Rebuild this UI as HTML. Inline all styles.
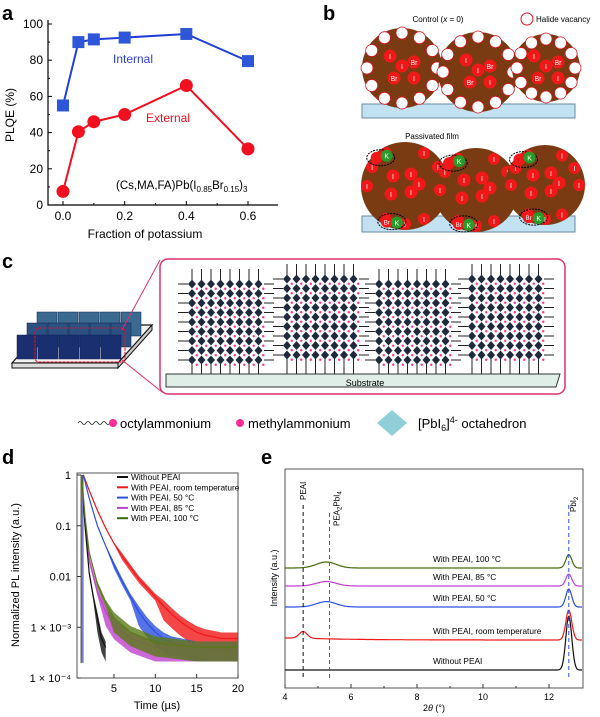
<!DOCTYPE html>
<html><head><meta charset="utf-8"><style>
body{margin:0;background:#fff;}
svg{display:block;font-family:"Liberation Sans",Arial,sans-serif;}
</style></head><body>
<svg id="fig" width="600" height="717" viewBox="0 0 600 717">
<g id="pa"></g>
<g id="pb"></g>
<g id="pc"></g>
<g id="pd"></g>
<g id="pe"></g>
</svg>
<script>
// ---- Panel a data
const aFractions=[0,0.05,0.1,0.2,0.4,0.6];
const aInternal=[55,90,91.5,92.5,94.5,79.5];
const aExternal=[7.5,40.5,46,50,66,31];
const aYTicks=[0,20,40,60,80,100];
const aXTicks=[0,0.2,0.4,0.6];
// ---- Panel d data
const dTimeRed=[1.3,2,3,4,5,6,7,8,9,10,11,12,13,14,15,16,17,18,19,20];
const dRed=[1,0.5,0.2,0.09,0.045,0.025,0.015,0.009,0.006,0.004,0.0026,0.0018,0.0013,0.001,0.0008,0.0007,0.00065,0.0006,0.0006,0.0006];
const dTimeBlue=[1.3,2,3,4,5,6,7,8,9,10,11,12,15,20];
const dBlue=[1,0.35,0.1,0.04,0.017,0.008,0.004,0.002,0.0012,0.0008,0.0006,0.0005,0.0004,0.0004];
const dTimeBlack=[1.1,1.5,2,2.5,3,3.5,4];
const dBlack=[1,0.1,0.012,0.004,0.0015,0.0006,0.0004];
const dTimeGreen=[1.1,1.5,2,3,4,5,7,10,15,20];
const dGreen=[1,0.15,0.03,0.007,0.003,0.0015,0.0008,0.0005,0.0004,0.0004];
const dTimeMag=[1.1,1.5,2,3,4,5,7,10,15,20];
const dMag=[1,0.12,0.022,0.005,0.002,0.0011,0.0006,0.0004,0.0004,0.0004];
const dYTicks=[1,0.1,0.01,0.001,0.0001];
const dYLabels=["1","0.1","0.01","1 × 10⁻³","1 × 10⁻⁴"];
const dXTicks=[5,10,15,20];
// ---- Panel e data
const eCurveNames=["Without PEAI","With PEAI, room temperature","With PEAI, 50 °C","With PEAI, 85 °C","With PEAI, 100 °C"];
const eOffsets=[0.6,1.6,2.7,3.4,4.0];
const ePbI2Heights=[1.8,1.0,0.6,0.4,0.45];
const ePEAHeights=[0,0,0.18,0.15,0.2];
const ePEAIHeights=[0,0.22,0,0,0];
const eXTicks=[4,6,8,10,12];

const NS="http://www.w3.org/2000/svg";
function el(parent,tag,attrs,text){const e=document.createElementNS(NS,tag);for(const k in attrs)e.setAttribute(k,attrs[k]);if(text!==undefined)e.textContent=text;parent.appendChild(e);return e;}

// ================= Panel a
(function(){
const g=document.getElementById('pa');
const X=v=>63+v*(185/0.6), Y=v=>205-v*1.81;
let t=el(g,'text',{x:2,y:20,'font-size':20,'font-weight':'bold'},'a');

let ax=el(g,'path',{d:'M48,20 V205 H278',fill:'none',stroke:'#000','stroke-width':1.2});

aYTicks.forEach(v=>{el(g,'line',{x1:48,x2:52,y1:Y(v),y2:Y(v),stroke:'#000'});
 const l=el(g,'text',{x:43,y:Y(v)+4,'font-size':12,'text-anchor':'end'},v);
 });
[10,30,50,70,90].forEach(v=>el(g,'line',{x1:48,x2:50,y1:Y(v),y2:Y(v),stroke:'#000'}));
aXTicks.forEach(v=>{el(g,'line',{x1:X(v),x2:X(v),y1:205,y2:201,stroke:'#000'});
 const l=el(g,'text',{x:X(v),y:220,'font-size':12,'text-anchor':'middle'},v.toFixed(1));
 });
[0.1,0.3,0.5].forEach(v=>el(g,'line',{x1:X(v),x2:X(v),y1:205,y2:203,stroke:'#000'}));
let yl=el(g,'text',{x:14,y:115,'font-size':12,'text-anchor':'middle',transform:'rotate(-90 14 115)'},'PLQE (%)');

let xl=el(g,'text',{x:145,y:238,'font-size':12,'text-anchor':'middle'},'Fraction of potassium');

let pi=el(g,'polyline',{points:aFractions.map((f,i)=>X(f)+','+Y(aInternal[i])).join(' '),fill:'none',stroke:'#1f3fd6','stroke-width':2});

aFractions.forEach((f,i)=>{const r=el(g,'rect',{x:X(f)-6,y:Y(aInternal[i])-6,width:12,height:12,fill:'#2e56d8'});
 });
let pe=el(g,'polyline',{points:aFractions.map((f,i)=>X(f)+','+Y(aExternal[i])).join(' '),fill:'none',stroke:'#f01020','stroke-width':2});

aFractions.forEach((f,i)=>{const c=el(g,'circle',{cx:X(f),cy:Y(aExternal[i]),r:6.5,fill:'#f01020'});
 });
let li=el(g,'text',{x:113,y:63,'font-size':12,fill:'#2e3fd0'},'Internal');
let le=el(g,'text',{x:146,y:122,'font-size':12,fill:'#f01020'},'External');
let fm=el(g,'text',{x:116,y:189,'font-size':11.5});fm.innerHTML='(Cs,MA,FA)Pb(I<tspan font-size="8" dy="3">0.85</tspan><tspan dy="-3">Br</tspan><tspan font-size="8" dy="3">0.15</tspan><tspan dy="-3">)</tspan><tspan font-size="8" dy="3">3</tspan>';

})();

// ================= Panel b
(function(){
const g=document.getElementById('pb');
const brown='#7b3b12';
let t=el(g,'text',{x:323,y:20,'font-size':20,'font-weight':'bold'},'b');
let c1=el(g,'text',{x:438,y:22,'font-size':8,'text-anchor':'middle'});c1.innerHTML='Control (<tspan font-style="italic">x</tspan> = 0)';

el(g,'circle',{cx:527,cy:19,r:6,fill:'#fff',stroke:'#e01020'});
let hv=el(g,'text',{x:536,y:22,'font-size':8},'Halide vacancy');
let s1=el(g,'rect',{x:362,y:104,width:213,height:14,fill:'#c2e2f2',stroke:'#6a8aa0'});
[[402,68,40],[478,72,40],[546,68,34]].forEach(([cx,cy,r])=>{
 const gr=el(g,'circle',{cx,cy,r,fill:brown});
 for(let k=0;k<12;k++){const a=k/12*Math.PI*2;el(g,'circle',{cx:cx+(r-5)*Math.cos(a),cy:cy+(r-5)*Math.sin(a),r:6,fill:'#fff',stroke:'#e01020','stroke-width':0.8});}
 [[-12,-12,'I'],[0,-2,'I'],[12,-6,'Br'],[-8,10,'Br'],[12,10,'I']].forEach(([dx,dy,s])=>{el(g,'circle',{cx:cx+dx,cy:cy+dy,r:6.5,fill:'#f01818'});el(g,'text',{x:cx+dx,y:cy+dy+3,'font-size':7,fill:'#fff','text-anchor':'middle'},s);});
});
let pf=el(g,'text',{x:432,y:139,'font-size':8,'text-anchor':'middle'},'Passivated film');
let s2=el(g,'rect',{x:362,y:216,width:213,height:16,fill:'#c2e2f2',stroke:'#6a8aa0'});
[[405,186,44],[476,190,42],[545,185,40]].forEach(([cx,cy,r])=>{
 const gr=el(g,'circle',{cx,cy,r,fill:brown});
 for(let k=0;k<12;k++){const a=k/12*Math.PI*2;if(k%4==1)continue;el(g,'circle',{cx:cx+(r-6)*Math.cos(a),cy:cy+(r-6)*Math.sin(a),r:6,fill:'#f01818'});el(g,'text',{x:cx+(r-6)*Math.cos(a),y:cy+(r-6)*Math.sin(a)+3,'font-size':7,fill:'#fff','text-anchor':'middle'},'I');}
 [[-12,-10],[6,-12],[-14,8],[6,6],[14,-2]].forEach(([dx,dy])=>{el(g,'circle',{cx:cx+dx,cy:cy+dy,r:6.5,fill:'#f01818'});el(g,'text',{x:cx+dx,y:cy+dy+3,'font-size':7,fill:'#fff','text-anchor':'middle'},'I');});
 const a=Math.PI*1.25;const px=cx+(r-4)*Math.cos(a),py=cy+(r-4)*Math.sin(a);
 el(g,'ellipse',{cx:px+4,cy:py,rx:14,ry:8,fill:'none',stroke:'#000','stroke-dasharray':'2,1'});
 el(g,'circle',{cx:px,cy:py,r:6,fill:'#f01818'});el(g,'circle',{cx:px+10,cy:py-2,r:6,fill:'#2a9a2a'});el(g,'text',{x:px+10,y:py+1,'font-size':7,fill:'#fff','text-anchor':'middle'},'K');
 const b2=Math.PI*0.65;const qx=cx+(r-4)*Math.cos(b2),qy=cy+(r-4)*Math.sin(b2);
 el(g,'ellipse',{cx:qx+5,cy:qy,rx:14,ry:8,fill:'none',stroke:'#000','stroke-dasharray':'2,1'});
 el(g,'circle',{cx:qx,cy:qy,r:6,fill:'#f01818'});el(g,'text',{x:qx,y:qy+3,'font-size':6,fill:'#fff','text-anchor':'middle'},'Br');el(g,'circle',{cx:qx+10,cy:qy+1,r:6,fill:'#2a9a2a'});el(g,'text',{x:qx+10,y:qy+4,'font-size':7,fill:'#fff','text-anchor':'middle'},'K');
});
})();

// ================= Panel c
(function(){
const g=document.getElementById('pc');
let t=el(g,'text',{x:2,y:268,'font-size':20,'font-weight':'bold'},'c');
let pl=el(g,'polygon',{points:'12,363 118,363 152,325 46,325',fill:'#f2f2f2',stroke:'#111','stroke-width':1.2});
el(g,'polygon',{points:'12,363 118,363 118,368 12,368',fill:'#ddd',stroke:'#111'});
el(g,'polygon',{points:'118,363 152,325 152,330 118,368',fill:'#ccc',stroke:'#111'});
[[37,312],[27,323],[17,335]].forEach(([x0,y0],r)=>{
 for(let c=0;c<5;c++){el(g,'rect',{x:x0+c*21,y:y0,width:20,height:24,fill:r==2?'#1a2f70':(r==1?'#2c5080':'#3a6a90'),stroke:'#0d2050','stroke-width':0.5});}
});
let rb=el(g,'rect',{x:35,y:328,width:90,height:34,rx:4,fill:'none',stroke:'#e01030','stroke-dasharray':'3,1'});
el(g,'line',{x1:122,y1:330,x2:160,y2:260,stroke:'#e0306a'});el(g,'line',{x1:122,y1:360,x2:162,y2:392,stroke:'#e0306a'});
let box=el(g,'rect',{x:160,y:259,width:405,height:135,rx:8,fill:'#fff',stroke:'#e0306a','stroke-width':1.5});
let sb=el(g,'polygon',{points:'166,374 560,374 556,387 166,387',fill:'#dfeee6',stroke:'#333'});
let st=el(g,'text',{x:365,y:386,'font-size':9,'text-anchor':'middle'},'Substrate');
[[188,280],[283,275],[375,280],[468,275]].forEach(([x0,y0])=>{
 const blk=el(g,'g',{});
 for(let c=0;c<8;c++){el(blk,'line',{x1:x0+4+c*9.5,x2:x0+4+c*9.5,y1:y0-11,y2:y0,stroke:'#222'});el(blk,'line',{x1:x0+4+c*9.5,x2:x0+4+c*9.5,y1:y0+82,y2:374,stroke:'#222'});}
 for(let r=0;r<9;r++){el(blk,'line',{x1:x0-10,x2:x0,y1:y0+4+r*9.5,y2:y0+4+r*9.5,stroke:'#222'});el(blk,'line',{x1:x0+76,x2:x0+86,y1:y0+4+r*9.5,y2:y0+4+r*9.5,stroke:'#222'});
  for(let c=0;c<8;c++){const cx=x0+4+c*9.5,cy=y0+4+r*9.5;el(blk,'polygon',{points:`${cx},${cy-4.5} ${cx+4},${cy} ${cx},${cy+4.5} ${cx-4},${cy}`,fill:'#1e2a3c'});el(blk,'circle',{cx:cx+4.75,cy:cy+4.75,r:1.2,fill:'#ff3399'});}}
});
const lg=el(g,'g',{});
el(lg,'path',{d:'M78,423 q2,-3 4,0 t4,0 t4,0 t4,0 t4,0 t4,0 t4,0 t4,0',fill:'none',stroke:'#222','stroke-width':0.8});
el(lg,'circle',{cx:113,cy:423,r:4,fill:'#ff2d95'});
el(lg,'text',{x:120,y:428,'font-size':13},'octylammonium');
el(lg,'circle',{cx:240,cy:423,r:4,fill:'#ff2d95'});
el(lg,'text',{x:248,y:428,'font-size':13},'methylammonium');
el(lg,'polygon',{points:'392,410 407,423 392,436 377,423',fill:'#8fd0d8'});
const lt=el(lg,'text',{x:418,y:428,'font-size':13});lt.innerHTML='[PbI<tspan font-size="9" dy="3">6</tspan><tspan dy="-3">]</tspan><tspan font-size="9" dy="-5">4-</tspan><tspan dy="5"> octahedron</tspan>';
})();

// ================= Panel d
(function(){
const g=document.getElementById('pd');
const X=v=>77+(v-0.53)*(161/19.47), Y=v=>475-(Math.log10(v))*50.75;
let t=el(g,'text',{x:2,y:464,'font-size':20,'font-weight':'bold'},'d');
let fr=el(g,'rect',{x:77,y:473,width:161,height:205,fill:'#fff',stroke:'#555'});
dYTicks.forEach((v,i)=>{el(g,'line',{x1:77,x2:81,y1:Y(v),y2:Y(v),stroke:'#333'});
 const l=el(g,'text',{x:71,y:Y(v)+4,'font-size':11,'text-anchor':'end'},dYLabels[i]);});
dXTicks.forEach(v=>{el(g,'line',{x1:X(v),x2:X(v),y1:678,y2:674,stroke:'#333'});
 const l=el(g,'text',{x:X(v),y:692,'font-size':11,'text-anchor':'middle'},v);});
let yl=el(g,'text',{x:19,y:575,'font-size':11,'text-anchor':'middle',transform:'rotate(-90 19 575)'},'Normalized PL intensity (a.u.)');
let xl=el(g,'text',{x:157,y:709,'font-size':11,'text-anchor':'middle'},'Time (µs)');
const floor=Y(0.0002);
function series(ts,vs,color,name){
 const s=el(g,'g',{});
 const up=ts.map((tt,i)=>X(tt)+','+Math.max(474,Y(vs[i])-(vs[i]<0.003?6:(vs[i]<0.03?3:1))));
 const lo=ts.map((tt,i)=>X(tt)+','+Math.min(floor,Y(vs[i])+(vs[i]<0.003?14:(vs[i]<0.03?4:1)))).reverse();
 el(s,'polygon',{points:up.concat(lo).join(' '),fill:color,opacity:0.8});
 el(s,'polyline',{points:ts.map((tt,i)=>X(tt)+','+Y(vs[i])).join(' '),fill:'none',stroke:color,'stroke-width':1.2});
 el(s,'line',{x1:X(ts[0])-0.5,x2:X(ts[0])-0.5,y1:floor,y2:Y(vs[0]),stroke:color});
}
series(dTimeRed,dRed,'#f01818','series-room-temp');
series(dTimeBlue,dBlue,'#2b50e0','series-50c');
series(dTimeMag,dMag,'#c040d0','series-85c');
series(dTimeBlack,dBlack,'#111','series-without');
series(dTimeGreen,dGreen,'#5a7a18','series-100c');
const names=['Without PEAI','With PEAI, room temperature','With PEAI, 50 °C','With PEAI, 85 °C','With PEAI, 100 °C'];
const cols=['#111','#f01818','#2b50e0','#c040d0','#3a6a10'];
const lg=el(g,'g',{});
el(lg,'rect',{x:115,y:474,width:122,height:50,fill:'#fff'});
names.forEach((n,i)=>{el(lg,'line',{x1:117,x2:128,y1:477+i*10.3,y2:477+i*10.3,stroke:cols[i],'stroke-width':2});
 el(lg,'text',{x:131,y:480+i*10.3,'font-size':8.3},n);});
})();

// ================= Panel e
(function(){
const g=document.getElementById('pe');
const X=v=>285+(v-4)*33, Y=v=>688-v*30;
let t=el(g,'text',{x:261,y:464,'font-size':20,'font-weight':'bold'},'e');
let fr=el(g,'rect',{x:285,y:469,width:298,height:219,fill:'#fff',stroke:'#555'});
eXTicks.forEach(v=>{el(g,'line',{x1:X(v),x2:X(v),y1:688,y2:684,stroke:'#333'});
 const l=el(g,'text',{x:X(v),y:700,'font-size':9,'text-anchor':'middle'},v);});
[5,7,9,11].forEach(v=>el(g,'line',{x1:X(v),x2:X(v),y1:688,y2:686,stroke:'#333'}));
let yl=el(g,'text',{x:277,y:578,'font-size':9,'text-anchor':'middle',transform:'rotate(-90 277 578)'},'Intensity (a.u.)');
let xl=el(g,'text',{x:434,y:711,'font-size':9,'text-anchor':'middle'});xl.innerHTML='2<tspan font-style="italic">θ</tspan> (°)';
const cols=['#111','#f01818','#2b50e0','#c040d0','#4a6a10'];
const gauss=(x,c,w)=>Math.exp(-((x-c)*(x-c))/(2*w*w));
eOffsets.forEach((off,i)=>{
 const pts=[];
 for(let x=4;x<=13.001;x+=0.03){
  const v=off+ePbI2Heights[i]*gauss(x,12.6,0.09)+ePEAHeights[i]*gauss(x,5.25,0.3)+ePEAIHeights[i]*(gauss(x,4.55,0.12)+0.3*Math.exp(-(x-4.5)/1.5)*(x>4.5?1:0)+ (x<4.5?0.3:0));
  pts.push(X(x).toFixed(1)+','+Y(v).toFixed(1));}
 const p=el(g,'polyline',{points:pts.join(' '),fill:'none',stroke:cols[i],'stroke-width':1.2});
 
 const l=el(g,'text',{x:433,y:Y(off)-6,'font-size':8.3},eCurveNames[i]);
 
});
el(g,'line',{x1:X(4.55),x2:X(4.55),y1:505,y2:678,stroke:'#111','stroke-dasharray':'4,3'});
el(g,'line',{x1:X(5.35),x2:X(5.35),y1:513,y2:678,stroke:'#f01818','stroke-dasharray':'4,3'});
el(g,'line',{x1:X(12.6),x2:X(12.6),y1:505,y2:678,stroke:'#2b50e0','stroke-dasharray':'4,3'});
let a=el(g,'text',{x:X(4.55)+3,y:500,'font-size':8,transform:`rotate(-90 ${X(4.55)+3} 500)`},'PEAI');
let b=el(g,'text',{x:X(5.35)+10,y:526,'font-size':8,transform:`rotate(-90 ${X(5.35)+10} 526)`});b.innerHTML='PEA<tspan font-size="6" dy="2">2</tspan><tspan dy="-2">PbI</tspan><tspan font-size="6" dy="2">4</tspan>';
let c=el(g,'text',{x:X(12.6)+7,y:512,'font-size':8,transform:`rotate(-90 ${X(12.6)+7} 512)`});c.innerHTML='PbI<tspan font-size="6" dy="2">2</tspan>';
})();
</script>
</body></html>
